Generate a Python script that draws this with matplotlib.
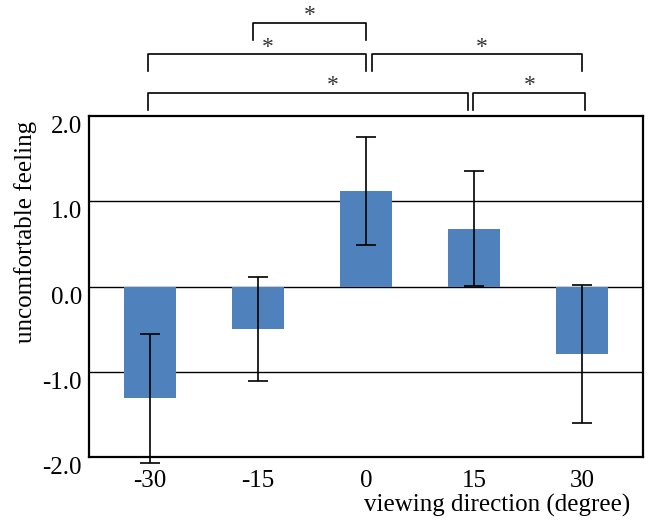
import matplotlib
matplotlib.use("Agg")
import matplotlib.pyplot as plt
import matplotlib.transforms as mtransforms

plt.rcParams["font.family"] = ["Liberation Serif", "DejaVu Serif"]

# data
directions = ["-30", "-15", "0", "15", "30"]
means = [-1.31, -0.50, 1.12, 0.68, -0.79]
errors = [0.76, 0.61, 0.63, 0.67, 0.81]
y_ticks = [2.0, 1.0, 0.0, -1.0, -2.0]

# significance brackets: (left index, right index), row (0 = lowest)
pairs = [(1, 2), (0, 2), (2, 4), (0, 3), (3, 4)]
rows = [2, 1, 1, 0, 0]
star_frac = [0.5, 0.55, 0.52, 0.58, 0.51]

bar_color = "#4F81BD"

fig = plt.figure(figsize=(6.51, 5.30), dpi=100)
ax = fig.add_axes([89.3 / 651, 1 - 457.3 / 530, 553.4 / 651, 341.3 / 530])

x = list(range(len(directions)))
ax.bar(x, means, width=0.48, color=bar_color, zorder=2)
eb = ax.errorbar(x, means, yerr=errors, fmt="none", ecolor="black",
                 elinewidth=1.2, capsize=7.2, capthick=1.2, zorder=3)
for child in eb.get_children():
    child.set_clip_on(False)

for v in (1.0, 0.0, -1.0):
    ax.axhline(v, color="black", lw=1.0, zorder=1)

ax.set_xlim(-0.562, 4.562)
ax.set_ylim(-2.0, 2.0)
ax.set_xticks(x, directions, fontsize=18)
ax.tick_params(axis="x", length=0, pad=9)
ax.set_yticks([])
for s in ax.spines.values():
    s.set_linewidth(1.6)
    s.set_color("black")

# y tick labels sit just below their lines
blend = mtransforms.blended_transform_factory(ax.transAxes, ax.transData)
for v in y_ticks:
    ax.text(-0.013, v - 0.2, f"{v:.1f}", transform=blend, ha="right",
            va="baseline", fontsize=18)

# brackets above the plot
row_line = [2.273, 2.723, 3.094]
leg = 0.2
for (i, j), r, f in zip(pairs, rows, star_frac):
    x0 = i - 0.02 if i != 1 else i - 0.05
    x1 = j + 0.03 if j == 4 and r == 0 else j
    if i == 2 and r == 1:
        x0 = i + 0.06
    if j == 3:
        x1 = j - 0.06
    if i == 3:
        x0 = i - 0.01
    y = row_line[r]
    ax.plot([x0, x0, x1, x1], [y - leg, y, y, y - leg], color="black",
            lw=1.2, clip_on=False)
    ax.text(x0 + f * (x1 - x0), y + 0.02, "*", ha="center", va="baseline",
            fontsize=17, color="#333333", clip_on=False)

fig.text(26 / 651, 1 - 231.5 / 530, "uncomfortable feeling", rotation=90,
         ha="center", va="center", fontsize=18)
fig.text(497 / 651, 1 - 505 / 530, "viewing direction (degree)",
         ha="center", va="center", fontsize=18)

fig.savefig("out.png", dpi=100)
